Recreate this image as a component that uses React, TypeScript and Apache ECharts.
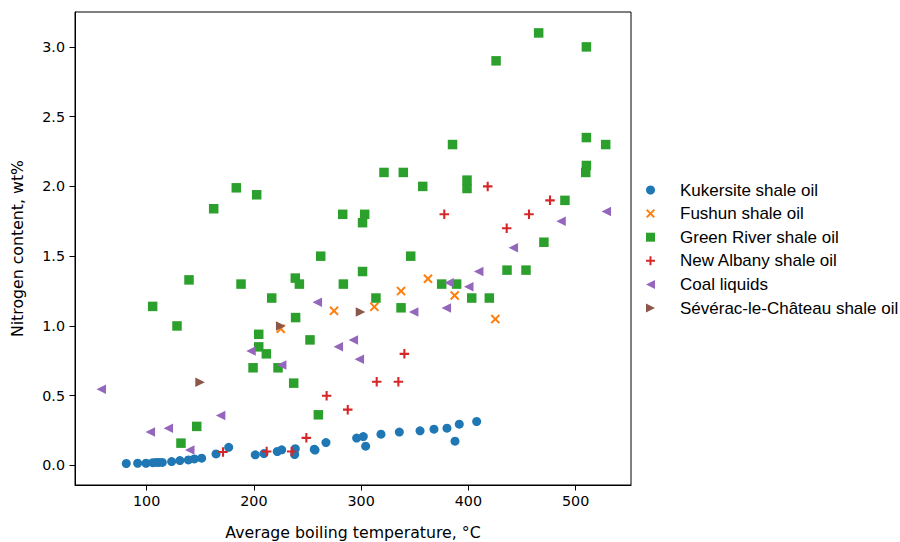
import React, { useEffect, useRef } from "react";
import * as echarts from "echarts";

const kukersite: number[][] = [
  [81, 0.014], [91.6, 0.016], [99.4, 0.016], [105.6, 0.02], [108.7, 0.022], [111.5, 0.022],
  [114.6, 0.022], [123.3, 0.028], [131, 0.035], [138.9, 0.04], [144.5, 0.047], [151.3, 0.052],
  [164.7, 0.083], [176.5, 0.13], [201.3, 0.076], [209.4, 0.085], [221.8, 0.1], [225.9, 0.112],
  [238.6, 0.12], [238, 0.078], [256.3, 0.117], [257, 0.11], [267.2, 0.164], [295.8, 0.196],
  [302, 0.207], [304.2, 0.138], [318.5, 0.224], [335.6, 0.239], [354.9, 0.248], [367.9, 0.26],
  [380, 0.267], [391.5, 0.296], [387.5, 0.174], [407.7, 0.315],
];
const fushun: number[][] = [
  [225, 0.98], [274.7, 1.108], [312.3, 1.137], [337.2, 1.25], [362.3, 1.338], [387.2, 1.218], [425.1, 1.049],
];
const greenRiver: number[][] = [
  [183.6, 1.99], [202.6, 1.94], [162.5, 1.84], [282.8, 1.8], [465.5, 3.1], [510, 3.0], [425.8, 2.9],
  [510, 2.35], [528, 2.3], [385.2, 2.3], [321.3, 2.1], [339.3, 2.1], [510, 2.15], [509.4, 2.1],
  [357.4, 2.0], [398.7, 2.045], [398.7, 1.985], [490, 1.9], [303.3, 1.8], [301.3, 1.74], [470.4, 1.6],
  [262.3, 1.5], [139.5, 1.33], [188, 1.3], [238.6, 1.343], [242.4, 1.3], [283.4, 1.3], [105.6, 1.14],
  [216.6, 1.2], [128.3, 1.0], [238.9, 1.06], [204.5, 0.94], [204.5, 0.85], [211.6, 0.8], [252.3, 0.9],
  [199.2, 0.7], [222.5, 0.7], [237.1, 0.59], [260.1, 0.363], [146.7, 0.28], [132, 0.16],
  [346.2, 1.5], [301.3, 1.39], [436, 1.4], [453.7, 1.4], [375.1, 1.3], [389, 1.3], [313.8, 1.2],
  [337.2, 1.13], [403.1, 1.2], [419.5, 1.2],
];
const newAlbany: number[][] = [
  [418, 2.0], [476.1, 1.9], [377.5, 1.8], [456.5, 1.8], [435.7, 1.7], [340.3, 0.8], [314.5, 0.6],
  [334.7, 0.6], [267.8, 0.5], [287.5, 0.4], [248.9, 0.198], [171.2, 0.097], [211.9, 0.1], [235.2, 0.1],
];
const coalLiquids: number[][] = [
  [57.7, 0.547], [103.4, 0.239], [120.2, 0.267], [169, 0.358], [140.2, 0.11], [259.1, 1.17],
  [197.3, 0.82], [225.9, 0.72], [278.7, 0.85], [292.7, 0.9], [298.3, 0.762], [349, 1.1],
  [379.4, 1.128], [381.9, 1.31], [400.3, 1.28], [409.6, 1.39], [441.9, 1.56], [486.4, 1.75], [528.6, 1.82],
];
const severac: number[][] = [
  [149.8, 0.597], [225, 1.0], [299.4, 1.1],
];

const xTicks = [100, 200, 300, 400, 500];
const yTicks = [0, 0.5, 1.0, 1.5, 2.0, 2.5, 3.0];

const FONT = "DejaVu Sans";
const LEGEND_FONT = "Liberation Sans";
const X_PATH = "path://M0,1.5L1.5,0L5,3.5L8.5,0L10,1.5L6.5,5L10,8.5L8.5,10L5,6.5L1.5,10L0,8.5L3.5,5Z";
const PLUS_PATH = "path://M3.9,0H6.1V3.9H10V6.1H6.1V10H3.9V6.1H0V3.9H3.9Z";
const LEFT_TRI = "path://M0,5L10,0L10,10Z";
const RIGHT_TRI = "path://M10,5L0,0L0,10Z";

export default function App() {
  const ref = useRef<HTMLDivElement>(null);
  useEffect(() => {
    if (!ref.current) return;
    const chart = echarts.init(ref.current, undefined, { renderer: "svg" });
    const mk = (name: string, data: number[][], symbol: string, color: string, size: number) => ({
      name,
      type: "scatter",
      data,
      symbol,
      symbolSize: size,
      itemStyle: { color, opacity: 1 },
      emphasis: { disabled: true },
    });
    chart.setOption({
      animation: false,
      backgroundColor: "#ffffff",
      grid: {
        left: 75, right: 269, top: 12, bottom: 57,
        outerBoundsMode: "none",
        containLabel: false,
        show: true, borderColor: "#000", borderWidth: 1, backgroundColor: "transparent",
      },
      xAxis: {
        type: "value",
        min: 33.2,
        max: 551.6,
        name: "Average boiling temperature, °C",
        nameLocation: "middle",
        nameGap: 39,
        nameTextStyle: { fontFamily: FONT, fontSize: 15.75, color: "#000" },
        axisLine: { show: true, onZero: false, lineStyle: { color: "#000", width: 1 } },
        axisTick: { show: true, length: 5.5, customValues: xTicks, lineStyle: { color: "#000" } },
        axisLabel: { customValues: xTicks, margin: 9, fontFamily: FONT, fontSize: 14.3, color: "#000" },
        splitLine: { show: false },
      },
      yAxis: {
        type: "value",
        min: -0.14,
        max: 3.25,
        name: "Nitrogen content, wt%",
        nameLocation: "middle",
        nameGap: 50,
        nameTextStyle: { fontFamily: FONT, fontSize: 15.75, color: "#000" },
        axisLine: { show: true, onZero: false, lineStyle: { color: "#000", width: 1 } },
        axisTick: { show: true, length: 5.5, customValues: yTicks, lineStyle: { color: "#000" } },
        axisLabel: {
          customValues: yTicks,
          margin: 10,
          fontFamily: FONT,
          fontSize: 14.3,
          color: "#000",
          formatter: (v: number) => v.toFixed(1),
        },
        splitLine: { show: false },
      },
      legend: {
        orient: "vertical",
        left: 641,
        top: 176.5,
        itemWidth: 9,
        itemHeight: 9,
        itemGap: 6.6,
        textStyle: { fontFamily: LEGEND_FONT, fontSize: 17, color: "#000", padding: [0, 0, 0, 20] },
        data: [
          "Kukersite shale oil",
          "Fushun shale oil",
          "Green River shale oil",
          "New Albany shale oil",
          "Coal liquids",
          "Sévérac-le-Château shale oil",
        ],
      },
      series: [
        mk("Kukersite shale oil", kukersite, "circle", "#1f77b4", 9),
        mk("Fushun shale oil", fushun, X_PATH, "#ff7f0e", 9.5),
        mk("Green River shale oil", greenRiver, "rect", "#2ca02c", 9.5),
        mk("New Albany shale oil", newAlbany, PLUS_PATH, "#d62728", 9.5),
        mk("Coal liquids", coalLiquids, LEFT_TRI, "#9467bd", 9.5),
        mk("Sévérac-le-Château shale oil", severac, RIGHT_TRI, "#8c564b", 9.5),
      ],
    });
    return () => chart.dispose();
  }, []);
  return <div ref={ref} style={{ width: 900, height: 542, position: "absolute", left: 0, top: 0 }} />;
}
